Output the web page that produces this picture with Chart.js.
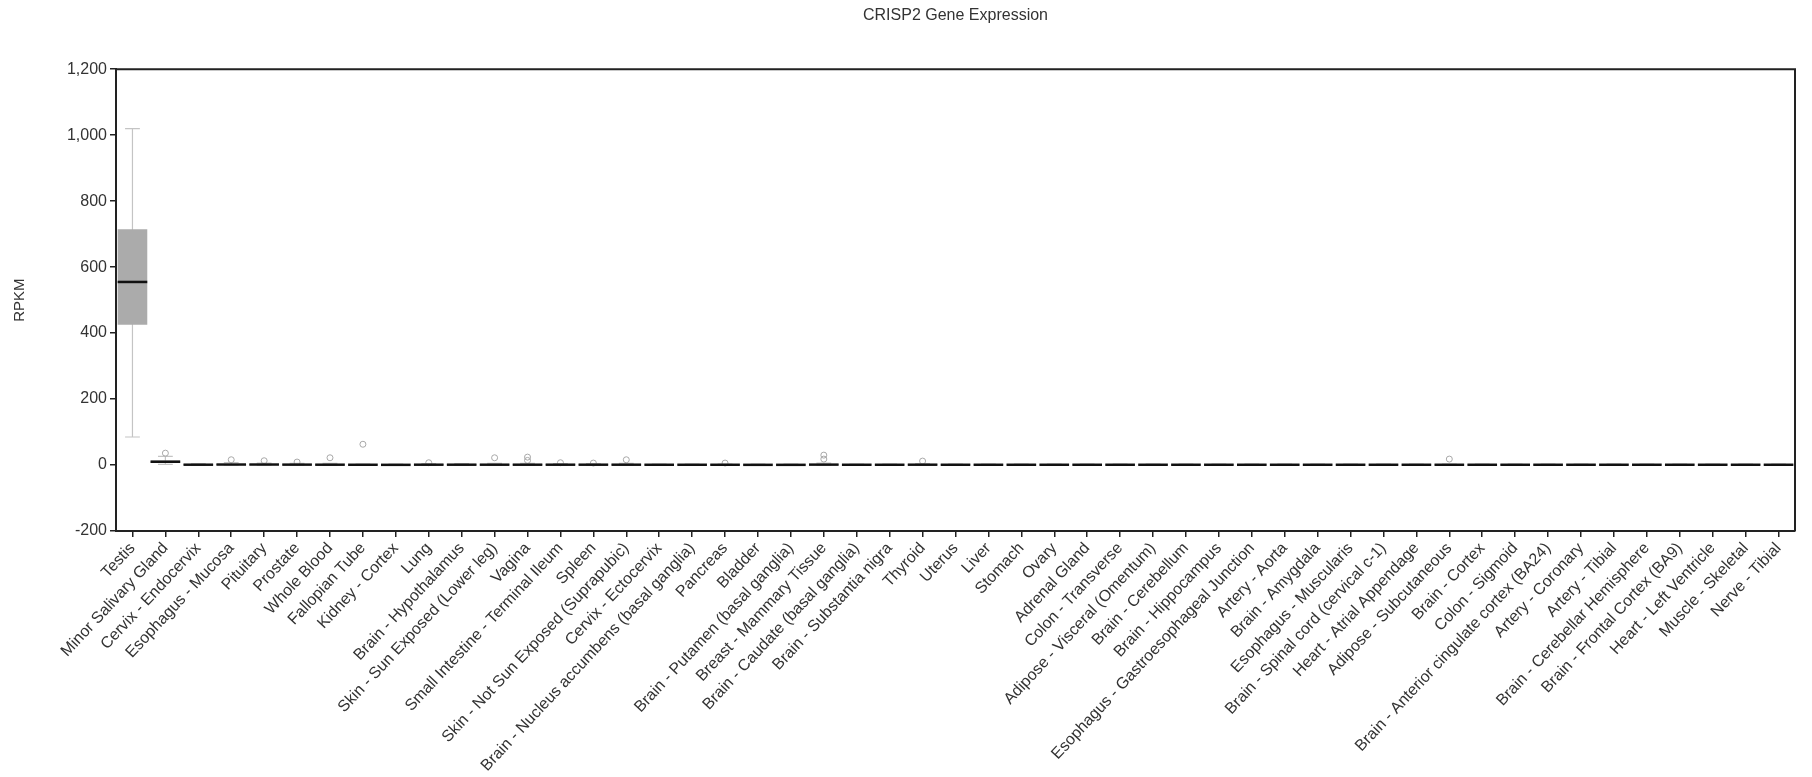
<!DOCTYPE html>
<html>
<head>
<meta charset="utf-8">
<script src="https://cdn.jsdelivr.net/npm/chart.js@4.4.1/dist/chart.umd.min.js"></script>
<style>
  html, body { margin: 0; background: #fff; }
  #wrap { width: 1812px; height: 777px; }
</style>
</head>
<body>
<div id="wrap"><canvas id="chart"></canvas></div>
<script>
const tissues = [
  "Testis", "Minor Salivary Gland", "Cervix - Endocervix", "Esophagus - Mucosa", "Pituitary",
  "Prostate", "Whole Blood", "Fallopian Tube", "Kidney - Cortex", "Lung",
  "Brain - Hypothalamus", "Skin - Sun Exposed (Lower leg)", "Vagina", "Small Intestine - Terminal Ileum", "Spleen",
  "Skin - Not Sun Exposed (Suprapubic)", "Cervix - Ectocervix", "Brain - Nucleus accumbens (basal ganglia)", "Pancreas", "Bladder",
  "Brain - Putamen (basal ganglia)", "Breast - Mammary Tissue", "Brain - Caudate (basal ganglia)", "Brain - Substantia nigra", "Thyroid",
  "Uterus", "Liver", "Stomach", "Ovary", "Adrenal Gland",
  "Colon - Transverse", "Adipose - Visceral (Omentum)", "Brain - Cerebellum", "Brain - Hippocampus", "Esophagus - Gastroesophageal Junction",
  "Artery - Aorta", "Brain - Amygdala", "Esophagus - Muscularis", "Brain - Spinal cord (cervical c-1)", "Heart - Atrial Appendage",
  "Adipose - Subcutaneous", "Brain - Cortex", "Colon - Sigmoid", "Brain - Anterior cingulate cortex (BA24)", "Artery - Coronary",
  "Artery - Tibial", "Brain - Cerebellar Hemisphere", "Brain - Frontal Cortex (BA9)", "Heart - Left Ventricle", "Muscle - Skeletal",
  "Nerve - Tibial"
];

// box plot statistics (RPKM)
const whiskerLow = [
  85, 2, 0, 0, 0, 0, 0, 0, 0, 0,
  0, 0, 0, 0, 0, 0, 0, 0, 0, 0,
  0, 0, 0, 0, 0, 0, 0, 0, 0, 0,
  0, 0, 0, 0, 0, 0, 0, 0, 0, 0,
  0, 0, 0, 0, 0, 0, 0, 0, 0, 0,
  0
];
const q1 = [
  425, 6, 0.2, 0.4, 0.4, 0.3, 0.2, 0.2, 0.1, 0.3,
  0.3, 0.3, 0.3, 0.3, 0.3, 0.3, 0.2, 0.2, 0.2, 0.1,
  0.1, 0.3, 0.2, 0.2, 0.3, 0.2, 0.2, 0.2, 0.2, 0.2,
  0.2, 0.2, 0.2, 0.2, 0.2, 0.2, 0.2, 0.2, 0.2, 0.2,
  0.2, 0.2, 0.2, 0.2, 0.2, 0.2, 0.2, 0.2, 0.2, 0.2,
  0.2
];
const median = [
  555, 10, 1, 1.5, 1.5, 1.2, 1, 0.8, 0.6, 1,
  1, 1, 1, 1, 1, 1, 0.8, 0.8, 0.8, 0.6,
  0.6, 1.2, 0.8, 0.8, 1, 0.8, 0.8, 0.8, 0.8, 0.8,
  0.8, 0.8, 0.8, 0.8, 0.8, 0.8, 0.8, 0.8, 0.8, 0.8,
  0.8, 0.8, 0.8, 0.8, 0.8, 0.8, 0.8, 0.8, 0.8, 0.8,
  0.8
];
const q3 = [
  715, 14, 2, 3, 3, 2.5, 2, 1.5, 1.2, 2,
  2, 2, 2, 2, 2, 2, 1.5, 1.5, 1.5, 1.2,
  1.2, 2.5, 1.5, 1.5, 2, 1.5, 1.5, 1.5, 1.5, 1.5,
  1.5, 1.5, 1.5, 1.5, 1.5, 1.5, 1.5, 1.5, 1.5, 1.5,
  1.5, 1.5, 1.5, 1.5, 1.5, 1.5, 1.5, 1.5, 1.5, 1.5,
  1.5
];
const whiskerHigh = [
  1020, 26, 4, 7, 6, 5, 5, 3, 2.5, 4,
  4, 5, 5, 4, 4, 5, 3, 3, 3, 2.5,
  2.5, 6, 3, 3, 4, 3, 3, 3, 3, 3,
  3, 3, 3, 3, 3, 3, 3, 3, 3, 3,
  3, 3, 3, 3, 3, 3, 3, 3, 3, 3,
  3
];

// outliers: tissue name + value
const outlierTissue = [
  "Minor Salivary Gland", "Esophagus - Mucosa", "Pituitary", "Prostate", "Whole Blood",
  "Fallopian Tube", "Lung", "Skin - Sun Exposed (Lower leg)", "Vagina", "Vagina",
  "Small Intestine - Terminal Ileum", "Spleen", "Skin - Not Sun Exposed (Suprapubic)", "Pancreas",
  "Breast - Mammary Tissue", "Breast - Mammary Tissue", "Thyroid", "Adipose - Subcutaneous"
];
const outlierValue = [
  36, 16, 13, 9, 22,
  63, 7, 22, 24, 14,
  7, 6, 16, 6,
  30, 18, 12, 18
];

const boxExtras = {
  id: "boxExtras",
  beforeDatasetsDraw(chart) {
    const { ctx, scales: { x, y } } = chart;
    const bars = chart.getDatasetMeta(0).data;
    ctx.save();
    ctx.strokeStyle = "#c4c4c4";
    ctx.lineWidth = 1.2;
    tissues.forEach((t, i) => {
      const cx = x.getPixelForValue(i);
      const half = bars[i].width * 0.25;
      const lo = y.getPixelForValue(whiskerLow[i]);
      const hi = y.getPixelForValue(whiskerHigh[i]);
      ctx.beginPath();
      ctx.moveTo(cx, lo); ctx.lineTo(cx, hi);
      ctx.moveTo(cx - half, lo); ctx.lineTo(cx + half, lo);
      ctx.moveTo(cx - half, hi); ctx.lineTo(cx + half, hi);
      ctx.stroke();
    });
    ctx.restore();
  },
  afterDatasetsDraw(chart) {
    const { ctx, chartArea, scales: { x, y } } = chart;
    const bars = chart.getDatasetMeta(0).data;
    ctx.save();
    ctx.strokeStyle = "#111";
    ctx.lineWidth = 2.5;
    tissues.forEach((t, i) => {
      const cx = x.getPixelForValue(i);
      const half = bars[i].width / 2;
      const m = y.getPixelForValue(median[i]);
      ctx.beginPath();
      ctx.moveTo(cx - half, m); ctx.lineTo(cx + half, m);
      ctx.stroke();
    });
    // frame top and right
    ctx.strokeStyle = "#222";
    ctx.lineWidth = 2;
    ctx.beginPath();
    ctx.moveTo(chartArea.left, chartArea.top);
    ctx.lineTo(chartArea.right, chartArea.top);
    ctx.lineTo(chartArea.right, chartArea.bottom);
    ctx.stroke();
    ctx.restore();
  }
};

const family = "Arial, 'Liberation Sans', sans-serif";

new Chart(document.getElementById("chart"), {
  type: "bar",
  data: {
    labels: tissues,
    datasets: [
      {
        label: "box",
        data: tissues.map((t, i) => [q1[i], q3[i]]),
        backgroundColor: "#ababab",
        borderWidth: 0,
        barPercentage: 0.9,
        categoryPercentage: 1.0,
        order: 2
      },
      {
        type: "line",
        label: "outliers",
        data: outlierTissue.map((t, i) => ({ x: t, y: outlierValue[i] })),
        showLine: false,
        pointStyle: "circle",
        pointRadius: 3,
        pointBorderWidth: 1,
        pointBorderColor: "#a8a8a8",
        pointBackgroundColor: "rgba(255,255,255,0)",
        order: 1
      }
    ]
  },
  options: {
    responsive: true,
    maintainAspectRatio: false,
    animation: false,
    layout: { padding: { left: 0, right: 17, top: 0, bottom: 0 } },
    plugins: {
      legend: { display: false },
      tooltip: { enabled: false },
      title: {
        display: true,
        fullSize: false,
        text: "CRISP2 Gene Expression",
        color: "#333",
        font: { family, size: 16, weight: "normal" },
        padding: { top: 6, bottom: 44 }
      }
    },
    scales: {
      x: {
        offset: true,
        grid: { display: true, drawOnChartArea: false, offset: false, tickLength: 6, color: "#222", lineWidth: 1.5 },
        border: { color: "#222", width: 2 },
        ticks: {
          autoSkip: false,
          minRotation: 47,
          maxRotation: 47,
          color: "#333",
          font: { family, size: 16 },
          padding: 2
        },
        afterFit(scale) { scale.height = 246; }
      },
      y: {
        min: -200,
        max: 1200,
        grid: { display: true, drawOnChartArea: false, tickLength: 6, color: "#222", lineWidth: 1.5 },
        border: { color: "#222", width: 2 },
        ticks: { stepSize: 200, color: "#333", font: { family, size: 16 }, padding: 3 },
        title: {
          display: true,
          text: "RPKM",
          color: "#333",
          font: { family, size: 15 },
          padding: { top: 11, bottom: 0 }
        },
        afterFit(scale) { scale.width = 116; }
      }
    }
  },
  plugins: [boxExtras]
});
</script>
</body>
</html>
